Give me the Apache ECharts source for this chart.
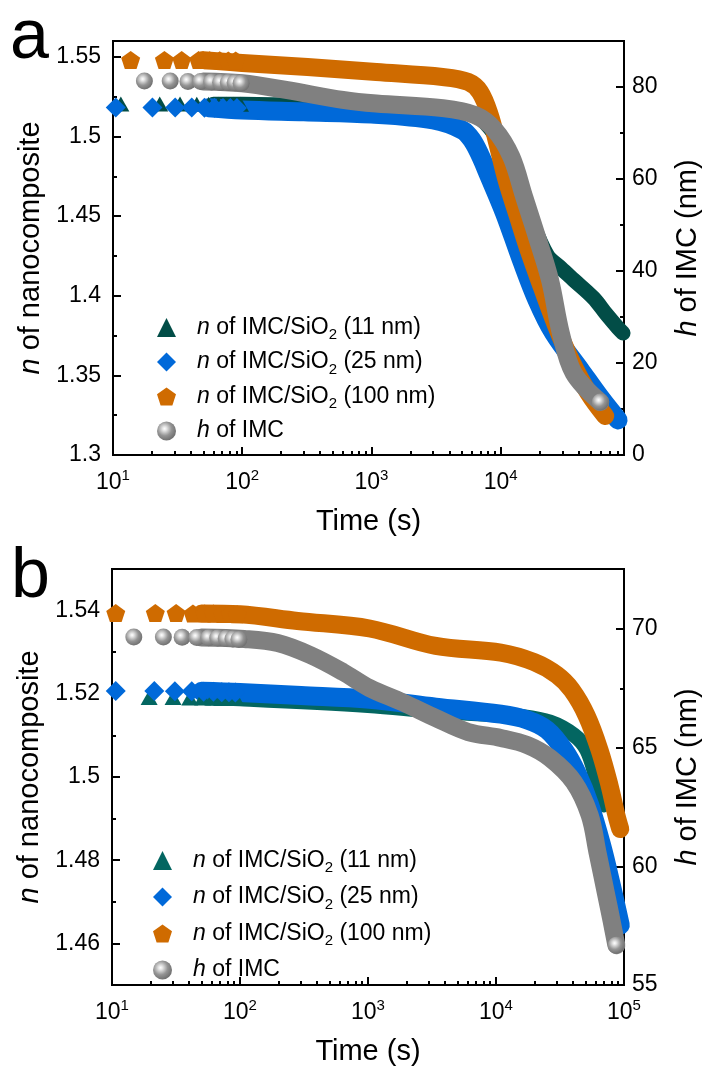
<!DOCTYPE html>
<html><head><meta charset="utf-8">
<script src="https://cdn.jsdelivr.net/npm/echarts@6/dist/echarts.min.js"></script>
<style>html,body{margin:0;padding:0;background:#fff}#c{width:710px;height:1069px}</style>
</head><body><div id="c"></div>
<script>
// ================= DATA =================
// Panel a : [time (s), value]
const a11Markers = [[11.5,1.5205],[23,1.5204],[33,1.5204],[44.5,1.5203],[55,1.5203],[65.5,1.5203],[75,1.5202],[86,1.5202],[97,1.5202]];
const a11Band = [[60,1.5203],[100,1.5202],[300,1.5198],[1090,1.5192],[3550,1.518],[6340,1.5135],[9000,1.501],[12100,1.479],[16070,1.4539],[22900,1.4256],[29200,1.4174],[36700,1.41],[52300,1.3986],[65600,1.3885],[81000,1.3798],[88500,1.3766]];
const a25Markers = [[10.5,1.5183],[20.2,1.5183],[30.3,1.5182],[40.7,1.5182],[51,1.5181],[61,1.5181],[71,1.518],[81,1.518],[91,1.518]];
const a25Band = [[55,1.5181],[100,1.5167],[300,1.5155],[1000,1.5141],[3000,1.5104],[5040,1.5041],[6000,1.4978],[6920,1.4884],[7950,1.4771],[10700,1.452],[14460,1.4225],[19110,1.3973],[25700,1.3766],[41400,1.3534],[58600,1.3364],[81000,1.322]];
const a100Markers = [[13.7,1.5481],[25,1.5481],[34,1.548],[46,1.548],[56,1.5479],[67,1.5479],[78,1.5478],[89,1.5478]];
const a100Band = [[50,1.548],[100,1.5462],[320,1.5437],[1090,1.5405],[3550,1.5374],[5600,1.5343],[6920,1.528],[8240,1.5135],[9490,1.4947],[11100,1.4727],[13490,1.4507],[16640,1.4275],[20930,1.4049],[26740,1.3816],[35450,1.3584],[47780,1.3389],[64400,1.3245]];
const aHMarkers = [[17.5,81.3],[27.7,81.3],[38,81.2],[47.7,81.2],[58,81.1],[68,81.0],[78,81.0],[88,80.9],[98,80.8]];
const aHBand = [[50,81.2],[100,80.8],[224,79.3],[600,77.2],[1090,76.4],[3550,75.4],[6340,73.9],[9000,70.7],[12100,64.8],[15200,56.1],[19100,47.4],[24100,38.0],[29200,26.5],[36700,17.8],[59000,11.5]];
const aHLast = [[59000,11.5]];

// Panel b
const b11Markers = [[19.5,1.5191],[30,1.5191],[40.5,1.519],[51,1.519],[61.5,1.519],[72,1.5189],[82.5,1.5189],[93,1.5189]];
const b11Band = [[55,1.519],[100,1.5188],[1000,1.5172],[3380,1.5158],[10900,1.5149],[14800,1.5147],[26500,1.5132],[40600,1.5101],[51200,1.5065],[61100,1.4993],[69200,1.4933]];
const b25Markers = [[10.7,1.5207],[21.4,1.5207],[31,1.5206],[42,1.5206],[52,1.5205],[62,1.5205],[72,1.5204],[82,1.5204],[92,1.5203]];
const b25Band = [[50,1.5206],[100,1.5203],[300,1.5196],[1030,1.5187],[3380,1.5168],[10900,1.5151],[17600,1.5137],[25100,1.5113],[34000,1.5065],[42800,1.501],[53900,1.4933],[66700,1.4837],[79600,1.474],[93500,1.4644]];
const b100Markers = [[10.7,1.5394],[21.8,1.5394],[31.7,1.5394],[42.9,1.5393],[53,1.5393],[62,1.5393],[73,1.5392],[84,1.5392],[95,1.5391]];
const b100Band = [[50,1.5393],[100,1.5391],[282,1.5375],[1030,1.5357],[3380,1.5315],[10900,1.5299],[19900,1.5276],[30000,1.5245],[39100,1.5209],[51100,1.5147],[64400,1.5065],[76900,1.4981],[87100,1.4909],[93500,1.4875]];
const bHMarkers = [[14.8,69.66],[25.2,69.66],[35.3,69.65],[46,69.64],[57,69.63],[67,69.62],[78,69.6],[88,69.58],[98,69.56]];
const bHBand = [[50,69.64],[108,69.58],[197,69.41],[355,68.9],[637,68.19],[1030,67.51],[1850,66.92],[3380,66.25],[6070,65.66],[10900,65.41],[17600,65.11],[26500,64.56],[40600,63.55],[53900,62.16],[62000,60.6],[72000,58.9],[80000,57.7],[87100,56.68]];
const bHLast = [[87100,56.68]];

// Tick labels / positions
const xMajorA = [10,100,1000,10000];
const xMajorB = [10,100,1000,10000,100000];
const yLeftA = [1.3,1.35,1.4,1.45,1.5,1.55];
const yLeftAMinor = [1.325,1.375,1.425,1.475,1.525];
const yRightA = [0,20,40,60,80];
const yRightAMinor = [10,30,50,70];
const yLeftB = [1.46,1.48,1.5,1.52,1.54];
const yLeftBMinor = [1.45,1.47,1.49,1.51,1.53];
const yRightB = [55,60,65,70];
const yRightBMinor = [57.5,62.5,67.5];
const legendNames = {a11:'11 nm', a25:'25 nm', a100:'100 nm', b11:'11 nm', b25:'25 nm', b100:'100 nm'};

// ================= STYLE =================
const FONT = '"Liberation Sans", Arial, Helvetica, sans-serif';
const C11a = '#024d47', C11b = '#036661', C25 = '#0069d9', C100 = '#cf6b00', CH = '#808080';
const PENT = 'path://M50,0 L97.55,34.55 L79.39,90.45 L20.61,90.45 L2.45,34.55 Z';
function sphere() {
  return new echarts.graphic.RadialGradient(0.4, 0.38, 0.62, [
    {offset:0, color:'#ffffff'}, {offset:0.18, color:'#e4e4e4'},
    {offset:0.6, color:'#949494'}, {offset:1, color:'#717171'}]);
}
function minorX(max) {
  const v = [];
  for (let d = 10; d < max; d *= 10) for (let k = 2; k <= 9; k++) if (d * k < max) v.push(d * k);
  return v;
}
const TICKW = 2;
function mainAxis(o) {
  return Object.assign({
    axisLine: {show:true, onZero:false, lineStyle:{color:'#000', width:2}},
    splitLine: {show:false},
    nameTextStyle: {fontFamily:FONT, fontSize:29, color:'#000'}
  }, o);
}
function helperAxis(o) {
  return Object.assign({
    axisLine: {show:false}, axisLabel: {show:false}, splitLine: {show:false}
  }, o);
}
const supLabel = v => '{b|10}{s|' + Math.round(Math.log10(v)) + '}';
const xLabelStyle = {fontFamily:FONT, fontSize:23, color:'#000', margin:13,
  rich: {b:{fontFamily:FONT, fontSize:23, lineHeight:30}, s:{fontFamily:FONT, fontSize:15, lineHeight:15, verticalAlign:'top'}}};
const yLabelStyle = {fontFamily:FONT, fontSize:23, color:'#000'};

function xAxes(grid, max, majors) {
  return [
    mainAxis({type:'log', logBase:10, gridIndex:grid, position:'bottom', min:10, max:max,
      name:'Time (s)', nameLocation:'middle', nameGap:52,
      axisTick:{show:true, inside:true, length:8, lineStyle:{color:'#000', width:TICKW}, customValues:majors},
      axisLabel:Object.assign({customValues:majors, formatter:supLabel}, xLabelStyle)}),
    helperAxis({type:'log', logBase:10, gridIndex:grid, position:'bottom', min:10, max:max,
      axisTick:{show:true, inside:true, length:4, lineStyle:{color:'#000', width:TICKW}, customValues:minorX(max)}})
  ];
}
function yAxes(grid, lmin, lmax, lmaj, lmin2, rmin, rmax, rmaj, rmin2, lname, rname) {
  const richName = {i:{fontFamily:FONT, fontSize:29, fontStyle:'italic', color:'#000'}, t:{fontFamily:FONT, fontSize:29, color:'#000'}};
  return [
    mainAxis({type:'value', gridIndex:grid, position:'left', min:lmin, max:lmax,
      name:lname, nameLocation:'middle', nameRotate:90, nameGap:65,
      nameTextStyle:{fontFamily:FONT, fontSize:29, color:'#000', rich:richName},
      axisTick:{show:true, inside:true, length:8, lineStyle:{color:'#000', width:TICKW}, customValues:lmaj},
      axisLabel:Object.assign({customValues:lmaj, margin:12}, yLabelStyle)}),
    helperAxis({type:'value', gridIndex:grid, position:'left', min:lmin, max:lmax,
      axisTick:{show:true, inside:true, length:4, lineStyle:{color:'#000', width:TICKW}, customValues:lmin2}}),
    mainAxis({type:'value', gridIndex:grid, position:'right', min:rmin, max:rmax,
      name:rname, nameLocation:'middle', nameRotate:90, nameGap:49,
      nameTextStyle:{fontFamily:FONT, fontSize:29, color:'#000', rich:richName},
      axisTick:{show:true, inside:true, length:8, lineStyle:{color:'#000', width:TICKW}, customValues:rmaj},
      axisLabel:Object.assign({customValues:rmaj, margin:8}, yLabelStyle)}),
    helperAxis({type:'value', gridIndex:grid, position:'right', min:rmin, max:rmax,
      axisTick:{show:true, inside:true, length:4, lineStyle:{color:'#000', width:TICKW}, customValues:rmin2}})
  ];
}

function band(data, xi, yi, color, width, z) {
  return {type:'line', xAxisIndex:xi, yAxisIndex:yi, data:data, showSymbol:false, symbol:'none',
    smooth:0.35, silent:true, legendHoverLink:false, z:z,
    lineStyle:{color:color, width:width, cap:'round', join:'round'}};
}
function marks(name, data, xi, yi, symbol, size, color, z) {
  return {type:'scatter', name:name, xAxisIndex:xi, yAxisIndex:yi, data:data, z:z,
    symbol:symbol, symbolSize:size, itemStyle:{color:color, opacity:1}};
}

function legend(prefix, left, top, gap) {
  return {
    orient:'vertical', left:left, top:top, itemWidth:19, itemHeight:19, itemGap:gap,
    selectedMode:false,
    data:[{name:prefix+'11', icon:'triangle'}, {name:prefix+'25', icon:'diamond'},
          {name:prefix+'100', icon:PENT}, {name:prefix+'H', icon:'circle'}],
    formatter: n => n.endsWith('H') ? '{sp| }{i|h}{t| of IMC}'
      : '{sp| }{i|n}{t| of IMC/SiO}{sub|2}{t| (' + legendNames[n] + ')}',
    textStyle:{fontFamily:FONT, fontSize:23, color:'#000',
      rich:{sp:{width:16}, i:{fontFamily:FONT, fontSize:23, fontStyle:'italic', lineHeight:30},
            t:{fontFamily:FONT, fontSize:23, lineHeight:30},
            sub:{fontFamily:FONT, fontSize:15, lineHeight:15, verticalAlign:'bottom'}}}
  };
}

const option = {
  animation:false,
  backgroundColor:'#fff',
  grid:[
    {left:113, top:41, width:518, height:414, show:true, borderColor:'#000', borderWidth:2, backgroundColor:'transparent'},
    {left:112, top:569, width:519, height:416, show:true, borderColor:'#000', borderWidth:2, backgroundColor:'transparent'}
  ],
  xAxis:[...xAxes(0, 90000, xMajorA), ...xAxes(1, 100000, xMajorB)],
  yAxis:[
    ...yAxes(0, 1.3, 1.56, yLeftA, yLeftAMinor, 0, 90, yRightA, yRightAMinor, '{i|n}{t| of nanocomposite}', '{i|h}{t| of IMC (nm)}'),
    ...yAxes(1, 1.45, 1.55, yLeftB, yLeftBMinor, 55, 72.53, yRightB, yRightBMinor, '{i|n}{t| of nanocomposite}', '{i|h}{t| of IMC (nm)}')
  ],
  legend:[legend('a', 152, 311, 8), legend('b', 148, 844, 10)],
  graphic:[
    {type:'text', left:10, top:4, style:{text:'a', font:'70px ' + FONT, fill:'#000'}},
    {type:'text', left:11, top:543, style:{text:'b', font:'70px ' + FONT, fill:'#000'}}
  ],
  series:[
    band(a11Band, 0, 0, C11a, 15, 2), marks('a11', a11Markers, 0, 0, 'triangle', [17,15], C11a, 3),
    band(a25Band, 0, 0, C25, 19, 2), marks('a25', a25Markers, 0, 0, 'diamond', [20,20], C25, 3),
    band(a100Band, 0, 0, C100, 18, 2), marks('a100', a100Markers, 0, 0, PENT, [19,18], C100, 3),
    band(aHBand, 0, 2, CH, 18, 2), marks('aH', aHMarkers, 0, 2, 'circle', 17, sphere(), 3),
    marks('aHend', aHLast, 0, 2, 'circle', 17, sphere(), 3),

    band(b11Band, 2, 4, C11b, 15, 2), marks('b11', b11Markers, 2, 4, 'triangle', [17,15], C11b, 3),
    band(b25Band, 2, 4, C25, 19, 2), marks('b25', b25Markers, 2, 4, 'diamond', [20,20], C25, 3),
    band(b100Band, 2, 4, C100, 18, 2), marks('b100', b100Markers, 2, 4, PENT, [19,18], C100, 3),
    band(bHBand, 2, 6, CH, 18, 2), marks('bH', bHMarkers, 2, 6, 'circle', 17, sphere(), 3),
    marks('bHend', bHLast, 2, 6, 'circle', 17, sphere(), 3)
  ]
};
const chart = echarts.init(document.getElementById('c'), null, {renderer:'canvas'});
chart.setOption(option);
</script></body></html>
